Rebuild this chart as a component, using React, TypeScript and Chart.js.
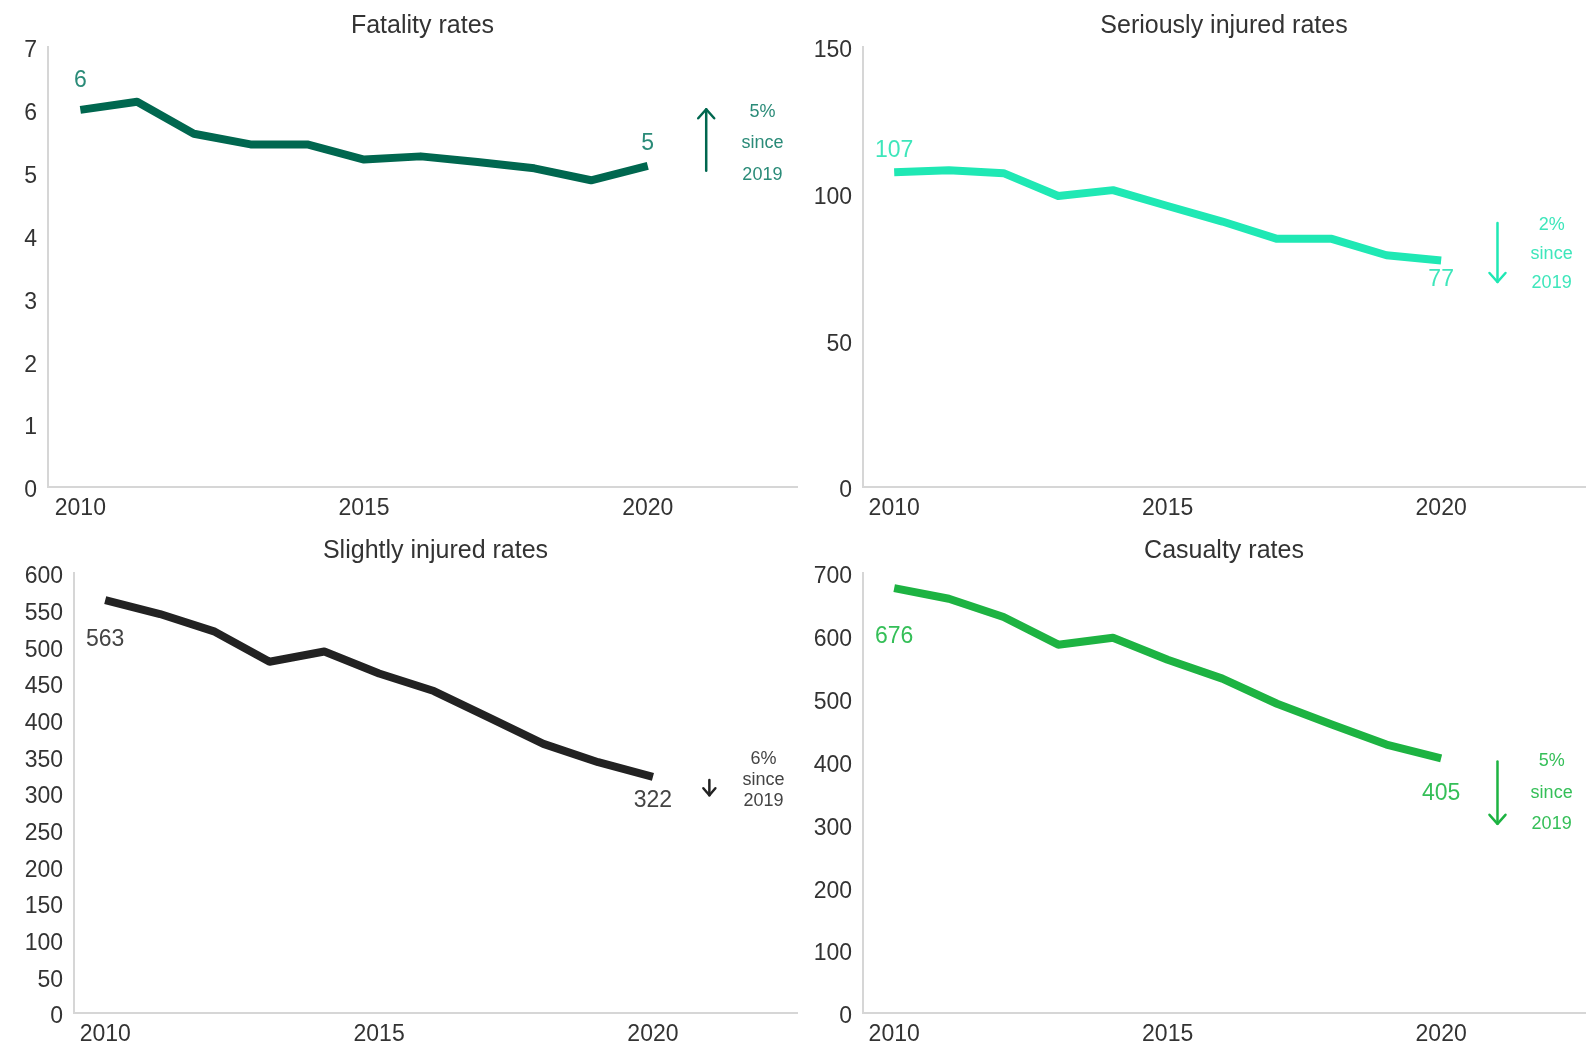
import React, { useEffect, useRef } from "react";
import { Chart, registerables } from "chart.js";

Chart.register(...registerables);

// Rates per billion vehicle miles, 2010 to 2020
const YEARS = [2010, 2011, 2012, 2013, 2014, 2015, 2016, 2017, 2018, 2019, 2020];
const FATALITY = [6.0, 6.13, 5.62, 5.45, 5.45, 5.21, 5.26, 5.17, 5.07, 4.88, 5.11];
const SERIOUS = [107.3, 108, 107, 99.2, 101.2, 95.8, 90.5, 84.6, 84.6, 79.0, 77.2];
const SLIGHT = [563, 544, 520, 479, 493, 463, 439, 403, 367, 342, 322];
const CASUALTY = [676, 659, 630, 586, 597, 562, 532, 492, 459, 427, 405];

const X_TICKS = [2010, 2015, 2020];
const TITLES = ["Fatality rates", "Seriously injured rates", "Slightly injured rates", "Casualty rates"];

const FONT = "'Liberation Sans', Arial, Helvetica, sans-serif";
const X_MIN = 2009.43;
const X_MAX = 2022.63;
const ARROW_X = 2021.03;
const NOTE_X = 2022.02;

type Panel = {
  title: string;
  values: number[];
  color: string;
  labelColor: string;
  left: number;
  top: number;
  width: number;
  height: number;
  axisWidth: number;
  padTop: number;
  padRight: number;
  yMax: number;
  yStep: number;
  firstOffset: number;
  lastOffset: number;
  arrowFrom: number;
  arrowTo: number;
  arrowHead: number;
  noteY: number;
  noteGap: number;
};

const PANELS: Panel[] = [
  {
    title: TITLES[0], values: FATALITY, color: "#00674f", labelColor: "#2a8b78",
    left: 0, top: 0, width: 805, height: 525, axisWidth: 48, padTop: 47, padRight: 8,
    yMax: 7, yStep: 1, firstOffset: -29, lastOffset: -22,
    arrowFrom: 5.03, arrowTo: 6.01, arrowHead: 8, noteY: 5.47, noteGap: 31.5,
  },
  {
    title: TITLES[1], values: SERIOUS, color: "#1fe8b4", labelColor: "#3ee6bb",
    left: 805, top: 0, width: 783, height: 525, axisWidth: 58, padTop: 47, padRight: 3,
    yMax: 150, yStep: 50, firstOffset: -22, lastOffset: 19,
    arrowFrom: 90.0, arrowTo: 69.9, arrowHead: 8, noteY: 79.4, noteGap: 29,
  },
  {
    title: TITLES[2], values: SLIGHT, color: "#222222", labelColor: "#444444",
    left: 0, top: 525, width: 805, height: 526, axisWidth: 74, padTop: 48, padRight: 8,
    yMax: 600, yStep: 50, firstOffset: 40, lastOffset: 24,
    arrowFrom: 317.7, arrowTo: 297, arrowHead: 6, noteY: 317.7, noteGap: 21,
  },
  {
    title: TITLES[3], values: CASUALTY, color: "#1db342", labelColor: "#35bf58",
    left: 805, top: 525, width: 783, height: 526, axisWidth: 58, padTop: 48, padRight: 3,
    yMax: 700, yStep: 100, firstOffset: 49, lastOffset: 35,
    arrowFrom: 400, arrowTo: 301, arrowHead: 8, noteY: 350, noteGap: 31.5,
  },
];

function PanelChart({ p }: { p: Panel }) {
  const ref = useRef<HTMLCanvasElement | null>(null);

  useEffect(() => {
    if (!ref.current) return;

    const decorations = {
      id: "decorations",
      afterDatasetsDraw(chart: any) {
        const { ctx, chartArea, scales } = chart;
        const x = scales.x;
        const y = scales.y;
        ctx.save();

        // panel title, centred over the plot area
        ctx.font = `25px ${FONT}`;
        ctx.fillStyle = "#333333";
        ctx.textAlign = "center";
        ctx.textBaseline = "middle";
        ctx.fillText(p.title, (chartArea.left + chartArea.right) / 2, 26);

        // first and last values
        const n = p.values.length;
        const first = p.values[0];
        const last = p.values[n - 1];
        const prev = p.values[n - 2];
        ctx.font = `23px ${FONT}`;
        ctx.fillStyle = p.labelColor;
        ctx.fillText(String(Math.round(first)), x.getPixelForValue(YEARS[0]), y.getPixelForValue(first) + p.firstOffset);
        ctx.fillText(String(Math.round(last)), x.getPixelForValue(YEARS[n - 1]), y.getPixelForValue(last) + p.lastOffset);

        // change since the previous year
        const ax = x.getPixelForValue(ARROW_X);
        const y0 = y.getPixelForValue(p.arrowFrom);
        const y1 = y.getPixelForValue(p.arrowTo);
        const dir = y1 < y0 ? -1 : 1;
        const h = p.arrowHead;
        ctx.strokeStyle = p.color;
        ctx.lineWidth = 2.5;
        ctx.lineCap = "round";
        ctx.lineJoin = "round";
        ctx.beginPath();
        ctx.moveTo(ax, y0);
        ctx.lineTo(ax, y1);
        ctx.stroke();
        ctx.beginPath();
        ctx.moveTo(ax - h, y1 - dir * (h + 1));
        ctx.lineTo(ax, y1);
        ctx.lineTo(ax + h, y1 - dir * (h + 1));
        ctx.stroke();

        const pct = Math.round(Math.abs(last / prev - 1) * 100);
        const nx = x.getPixelForValue(NOTE_X);
        const ny = y.getPixelForValue(p.noteY);
        ctx.font = `18px ${FONT}`;
        ctx.fillStyle = p.labelColor;
        ctx.fillText(`${pct}%`, nx, ny - p.noteGap);
        ctx.fillText("since", nx, ny);
        ctx.fillText(String(YEARS[n - 2]), nx, ny + p.noteGap);

        ctx.restore();
      },
    };

    const chart = new Chart(ref.current, {
      type: "line",
      data: {
        datasets: [
          {
            data: YEARS.map((yr, i) => ({ x: yr, y: p.values[i] })),
            borderColor: p.color,
            borderWidth: 8,
            borderCapStyle: "butt",
            borderJoinStyle: "round",
            pointRadius: 0,
            tension: 0,
            fill: false,
          },
        ],
      },
      options: {
        responsive: false,
        animation: false,
        layout: { padding: { left: 0, right: p.padRight, top: p.padTop, bottom: 0 } },
        plugins: {
          legend: { display: false },
          tooltip: { enabled: false },
          title: { display: false },
        },
        scales: {
          x: {
            type: "linear",
            min: X_MIN,
            max: X_MAX,
            grid: { display: false },
            border: { display: true, color: "#d6d6d6", width: 2 },
            afterBuildTicks: (s: any) => {
              s.ticks = X_TICKS.map((v) => ({ value: v }));
            },
            afterFit: (s: any) => {
              s.height = 38;
            },
            ticks: {
              autoSkip: false,
              maxRotation: 0,
              padding: 0,
              color: "#333333",
              font: { family: FONT, size: 23 },
              callback: (v: any) => String(v),
            },
          },
          y: {
            min: 0,
            max: p.yMax,
            grid: { display: false },
            border: { display: true, color: "#d6d6d6", width: 2 },
            afterFit: (s: any) => {
              s.width = p.axisWidth;
            },
            ticks: {
              stepSize: p.yStep,
              padding: 3,
              labelOffset: 4,
              color: "#333333",
              font: { family: FONT, size: 23 },
              callback: (v: any) => String(v),
            },
          },
        },
      },
      plugins: [decorations],
    } as any);

    return () => chart.destroy();
  }, [p]);

  return (
    <canvas
      ref={ref}
      width={p.width}
      height={p.height}
      style={{ position: "absolute", left: p.left, top: p.top, width: p.width, height: p.height }}
    />
  );
}

export default function App() {
  return (
    <div style={{ position: "absolute", left: 0, top: 0, width: 1588, height: 1051, background: "#ffffff" }}>
      {PANELS.map((p) => (
        <PanelChart key={p.title} p={p} />
      ))}
    </div>
  );
}
